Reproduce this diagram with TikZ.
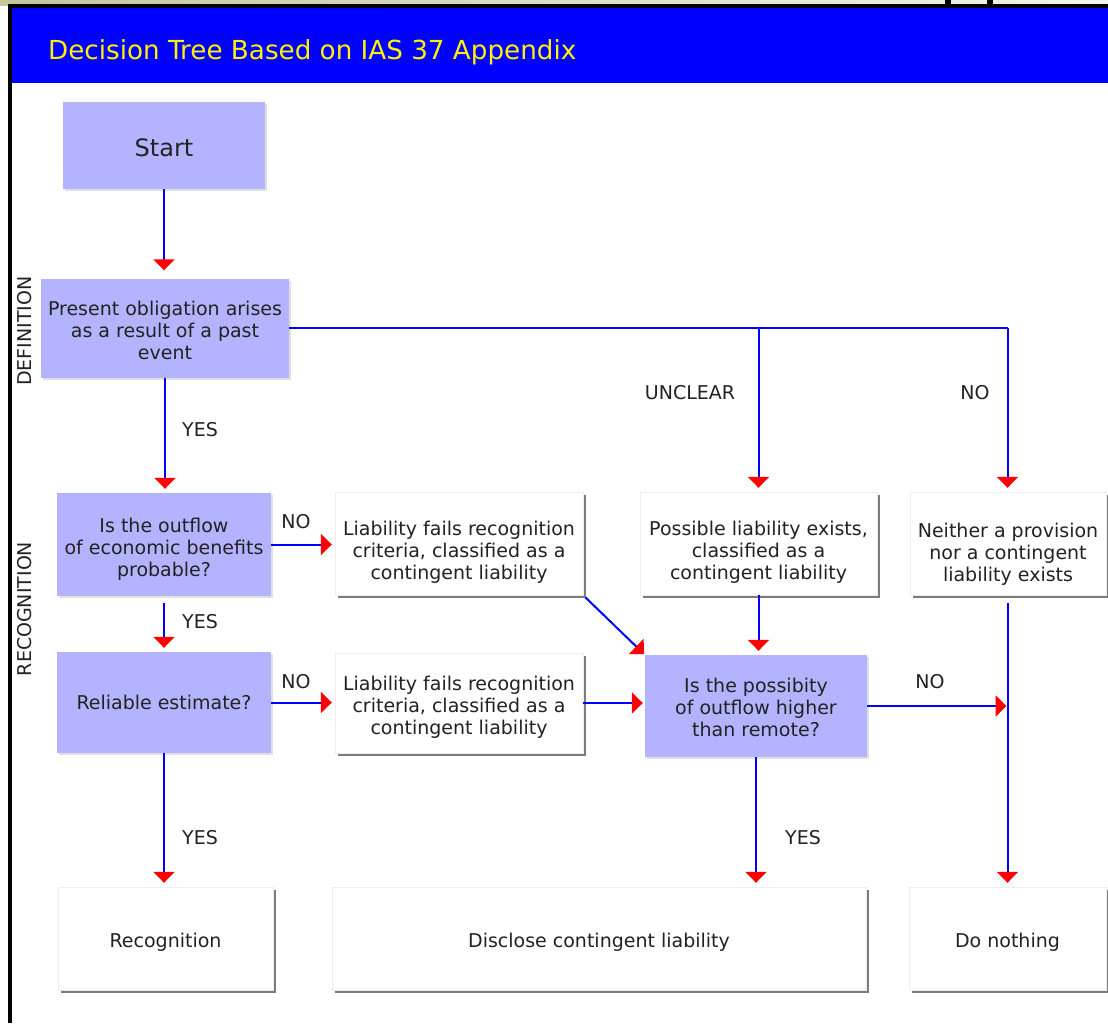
\documentclass[tikz,border=0pt]{standalone}
\usepackage{fontspec}
\setmainfont{DejaVu Sans}
\usetikzlibrary{arrows.meta,shadows}

\definecolor{barblue}{RGB}{0,0,255}
\definecolor{qfill}{RGB}{179,179,255}
\definecolor{khaki}{RGB}{198,198,156}
\definecolor{khakilight}{RGB}{244,244,234}
\definecolor{txt}{RGB}{34,34,34}

% text lines of a box, set lower by #1
\newcommand{\boxlines}[2][0pt]{\raisebox{-#1}[\height][\depth]{\begin{tabular}{@{}c@{}}#2\end{tabular}}}

\begin{document}
\begin{tikzpicture}[x=1pt,y=-1pt,
    font=\fontsize{19}{22}\selectfont, text=txt,
    qbox/.style={fill=qfill, inner sep=0pt,
      drop shadow={shadow xshift=2pt,shadow yshift=-2pt,fill=black,opacity=.12}},
    abox/.style={fill=white, draw=black!7, inner sep=0pt,
      drop shadow={shadow xshift=3pt,shadow yshift=-3pt,fill=black!60,opacity=.85}},
    link/.style={draw=barblue, line width=2pt},
    flow/.style={link, -{Triangle[width=21pt,length=11pt,color=red]}},
    lbl/.style={inner sep=0pt}]

  \useasboundingbox (0,0) rectangle (1108,1023);
  \fill[white] (0,0) rectangle (1108,1023);

  \shade[left color=khaki, right color=khakilight] (0,0) rectangle (1108,5);
  \fill[black] (8,4) rectangle (1108,8);
  \fill[black] (8,4) rectangle (12,1023);
  \fill[black] (945,0) rectangle (951,8);
  \fill[black] (987,0) rectangle (993,8);
  \fill[barblue] (12,8) rectangle (1108,83);
  \node [anchor=base west, lbl, text=yellow, font=\fontsize{26.2}{30}\selectfont] (title) at (48,59)
    {Decision Tree Based on IAS 37 Appendix};

  \node [rotate=90, lbl] (defn) at (25,331) {DEFINITION};
  \node [rotate=90, lbl] (recn) at (25,609) {RECOGNITION};

  \node [qbox, minimum width=202pt, minimum height=87pt, font=\fontsize{24}{28}\selectfont] (start) at (164,145.5) {\boxlines[5pt]{Start}};
  \node [qbox, minimum width=248pt, minimum height=99pt] (present) at (165,328)
    {\boxlines[5pt]{Present obligation arises\\as a result of a past\\event}};

  \node [qbox, minimum width=214pt, minimum height=103pt] (outflow) at (164,544.5)
    {\boxlines[6pt]{Is the outflow\\of economic benefits\\probable?}};
  \node [abox, minimum width=248pt, minimum height=103pt] (fails1) at (459,543.5)
    {\boxlines[10pt]{Liability fails recognition\\criteria, classified as a\\contingent liability}};
  \node [abox, minimum width=237pt, minimum height=103pt] (possible) at (758.5,543.5)
    {\boxlines[10pt]{Possible liability exists,\\classified as a\\contingent liability}};
  \node [abox, minimum width=196pt, minimum height=103pt] (neither) at (1008,543.5)
    {\boxlines[12pt]{Neither a provision\\nor a contingent\\liability exists}};

  \node [qbox, minimum width=214pt, minimum height=101pt] (reliable) at (164,702.5)
    {\boxlines[3pt]{Reliable estimate?}};
  \node [abox, minimum width=248pt, minimum height=100pt] (fails2) at (459,703)
    {\boxlines[5pt]{Liability fails recognition\\criteria, classified as a\\contingent liability}};
  \node [qbox, minimum width=222pt, minimum height=102pt] (remote) at (756,706)
    {\boxlines[4pt]{Is the possibity\\of outflow higher\\than remote?}};

  \node [abox, minimum width=215pt, minimum height=103pt] (recog) at (165.5,938.5) {\boxlines[5pt]{Recognition}};
  \node [abox, minimum width=534pt, minimum height=103pt] (disclose) at (599,938.5) {\boxlines[5pt]{Disclose contingent liability}};
  \node [abox, minimum width=197pt, minimum height=103pt] (nothing) at (1007.5,938.5) {\boxlines[5pt]{Do nothing}};

  \draw [flow, shorten >=8pt] (start.south) -- (start.south |- present.north);
  \draw [flow, shorten >=4pt] (present.south) -- (present.south |- outflow.north);
  \draw [link] (present.east) -- (present.east -| nothing.north);
  \draw [flow, shorten >=4pt] (present.east -| possible.north) -- (possible.north);
  \draw [flow, shorten >=4pt] (present.east -| nothing.north) -- (nothing.north |- neither.north);

  \draw [flow, shorten >=3pt] (outflow.east) -- (outflow.east -| fails1.west);
  \draw [flow, shorten <=7pt, shorten >=4pt] (outflow.south) -- (outflow.south |- reliable.north);
  \draw [flow, shorten >=3pt] (reliable.east) -- (reliable.east -| fails2.west);
  \draw [flow, shorten >=2pt] (fails2.east) -- (fails2.east -| remote.west);
  \draw [flow, shorten <=3pt, shorten >=1pt] (fails1.south east) -- (remote.north west);
  \draw [flow, shorten >=4pt] (possible.south) -- (possible.south |- remote.north);

  \coordinate (join) at (remote.east -| nothing.north);
  \draw [flow, shorten >=1pt] (remote.east) -- (join);
  \draw [flow, shorten <=8pt, shorten >=4pt] (neither.south -| nothing.north) -- (nothing.north);

  \draw [flow, shorten >=4pt] (reliable.south) -- (reliable.south |- recog.north);
  \draw [flow, shorten >=4pt] (remote.south) -- (remote.south |- disclose.north);

  \node [lbl] (yes1) at (200,430) {YES};
  \node [lbl] (unclear) at (690,393) {UNCLEAR};
  \node [lbl] (no1) at (975,393) {NO};
  \node [lbl] (no2) at (296,522) {NO};
  \node [lbl] (yes2) at (200,622) {YES};
  \node [lbl] (no3) at (296,682) {NO};
  \node [lbl] (no4) at (930,682) {NO};
  \node [lbl] (yes3) at (200,838) {YES};
  \node [lbl] (yes4) at (803,838) {YES};

\end{tikzpicture}
\end{document}
